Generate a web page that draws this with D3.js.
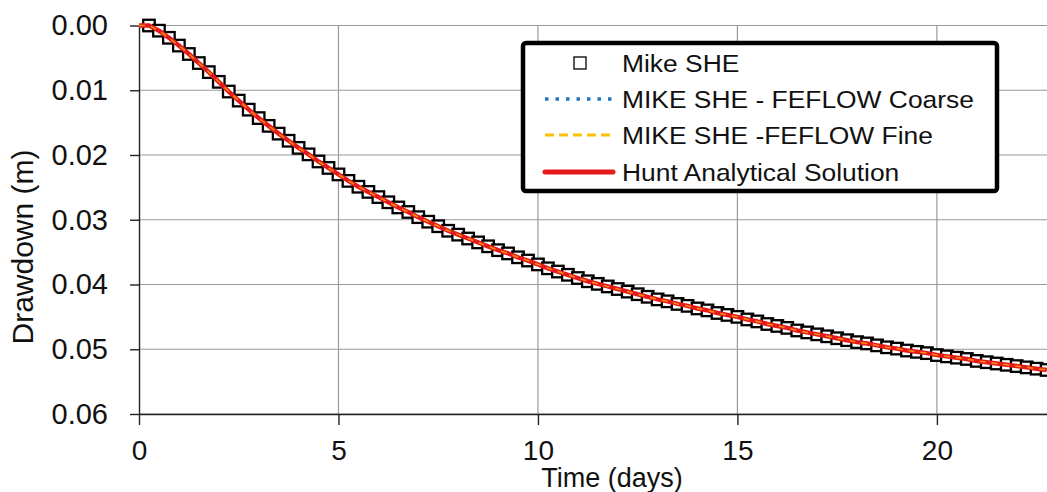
<!DOCTYPE html>
<html>
<head>
<meta charset="utf-8">
<script src="https://cdn.jsdelivr.net/npm/d3@7"></script>
<style>
  body { margin: 0; background: #fff; }
  svg { display: block; font-family: "Liberation Sans", Arial, sans-serif; }
</style>
</head>
<body>
<svg id="chart" width="1047" height="492"></svg>
<script>
// time (days) and drawdown (m), every 0.25 day
const times = [
  0, 0.25, 0.5, 0.75, 1, 1.25, 1.5, 1.75, 2, 2.25, 2.5, 2.75,
  3, 3.25, 3.5, 3.75, 4, 4.25, 4.5, 4.75, 5, 5.25, 5.5, 5.75,
  6, 6.25, 6.5, 6.75, 7, 7.25, 7.5, 7.75, 8, 8.25, 8.5, 8.75,
  9, 9.25, 9.5, 9.75, 10, 10.25, 10.5, 10.75, 11, 11.25, 11.5, 11.75,
  12, 12.25, 12.5, 12.75, 13, 13.25, 13.5, 13.75, 14, 14.25, 14.5, 14.75,
  15, 15.25, 15.5, 15.75, 16, 16.25, 16.5, 16.75, 17, 17.25, 17.5, 17.75,
  18, 18.25, 18.5, 18.75, 19, 19.25, 19.5, 19.75, 20, 20.25, 20.5, 20.75,
  21, 21.25, 21.5, 21.75, 22, 22.25, 22.5, 22.75
];

const huntDrawdown = [
  0, 0.0000, 0.0008, 0.0019, 0.0031, 0.0044, 0.0058, 0.0072, 0.0087, 0.0102, 0.0116, 0.0130,
  0.0143, 0.0155, 0.0167, 0.0178, 0.0189, 0.0199, 0.0210, 0.0220, 0.0230, 0.0240, 0.0249, 0.0257,
  0.0265, 0.0273, 0.0281, 0.0288, 0.0296, 0.0303, 0.0310, 0.0317, 0.0323, 0.0329, 0.0335, 0.0341,
  0.0347, 0.0352, 0.0358, 0.0363, 0.0369, 0.0375, 0.0380, 0.0385, 0.0390, 0.0395, 0.0399, 0.0403,
  0.0407, 0.0411, 0.0415, 0.0419, 0.0423, 0.0426, 0.0430, 0.0433, 0.0437, 0.0440, 0.0444, 0.0447,
  0.0450, 0.0454, 0.0457, 0.0461, 0.0464, 0.0467, 0.0471, 0.0474, 0.0477, 0.0480, 0.0483, 0.0486,
  0.0489, 0.0491, 0.0494, 0.0497, 0.0499, 0.0502, 0.0504, 0.0506, 0.0509, 0.0511, 0.0513, 0.0515,
  0.0518, 0.0520, 0.0522, 0.0524, 0.0526, 0.0528, 0.0530, 0.0532
];

// the model results sit right on top of the analytical curve
const mikeSheDrawdown = huntDrawdown;
const feflowCoarseDrawdown = huntDrawdown;
const feflowFineDrawdown = huntDrawdown;

const xTicks = [0, 5, 10, 15, 20];
const yTicks = [0, 0.01, 0.02, 0.03, 0.04, 0.05, 0.06];

const seriesNames = [
  "Mike SHE",
  "MIKE SHE - FEFLOW Coarse",
  "MIKE SHE -FEFLOW Fine",
  "Hunt Analytical Solution"
];

const svg = d3.select("#chart");

// plot area
const plotLeft = 139, plotRight = 1047, plotTop = 25.5, plotBottom = 414;

const x = d3.scaleLinear().domain([0, 22.76]).range([plotLeft, plotRight]);
const y = d3.scaleLinear().domain([0, 0.06]).range([plotTop, plotBottom]);

// gridlines
svg.append("g")
  .selectAll("line")
  .data(yTicks)
  .enter()
  .append("line")
  .attr("x1", plotLeft)
  .attr("x2", plotRight)
  .attr("y1", (d) => y(d))
  .attr("y2", (d) => y(d))
  .attr("stroke", "#9a9a9a")
  .attr("stroke-width", 1.2);

svg.append("g")
  .selectAll("line")
  .data(xTicks.slice(1))
  .enter()
  .append("line")
  .attr("x1", (d) => x(d))
  .attr("x2", (d) => x(d))
  .attr("y1", plotTop)
  .attr("y2", plotBottom)
  .attr("stroke", "#9a9a9a")
  .attr("stroke-width", 1.2);

// axes
const yAxis = svg.append("g")
  .attr("transform", `translate(${plotLeft},0)`)
  .call(d3.axisLeft(y).tickValues(yTicks).tickFormat(d3.format(".2f"))
    .tickSize(9).tickPadding(22).tickSizeOuter(0));
yAxis.selectAll("text")
  .style("font-size", "29px")
  .style("fill", "#111")
  .style("font-family", "Liberation Sans, Arial, sans-serif");

const xAxis = svg.append("g")
  .attr("transform", `translate(0,${plotBottom})`)
  .call(d3.axisBottom(x).tickValues(xTicks).tickFormat(d3.format("d"))
    .tickSize(11).tickPadding(15).tickSizeOuter(0));
xAxis.selectAll("text")
  .style("font-size", "28px")
  .style("fill", "#111")
  .style("font-family", "Liberation Sans, Arial, sans-serif");

svg.selectAll(".domain").attr("stroke", "#222").attr("stroke-width", 1.4);
svg.selectAll(".tick line").attr("stroke", "#222").attr("stroke-width", 1.4);

// axis titles (the time label sits right at the bottom edge)
svg.append("text")
  .attr("x", 612)
  .attr("y", 487)
  .attr("text-anchor", "middle")
  .style("font-size", "27px")
  .style("fill", "#111")
  .text("Time (days)");

svg.append("text")
  .attr("transform", "translate(33,247) rotate(-90)")
  .attr("text-anchor", "middle")
  .style("font-size", "30px")
  .style("fill", "#111")
  .text("Drawdown (m)");

// data
const plot = svg.append("g");

const points = (vals) => times.map((t, i) => ({ t: t, d: vals[i] }));
const line = d3.line().x((p) => x(p.t)).y((p) => y(p.d));

// Mike SHE squares (no marker at t = 0)
const markerSize = 11.5;
plot.selectAll("rect.mk")
  .data(points(mikeSheDrawdown).filter((p) => p.t > 0))
  .enter()
  .append("rect")
  .attr("class", "mk")
  .attr("x", (p) => x(p.t) - markerSize / 2)
  .attr("y", (p) => y(p.d) - markerSize / 2)
  .attr("width", markerSize)
  .attr("height", markerSize)
  .attr("fill", "#fff")
  .attr("stroke", "#000")
  .attr("stroke-width", 2.3);

plot.append("path")
  .datum(points(feflowCoarseDrawdown))
  .attr("d", line)
  .attr("fill", "none")
  .attr("stroke", "#1f77c4")
  .attr("stroke-width", 3)
  .attr("stroke-dasharray", "2,3");

plot.append("path")
  .datum(points(huntDrawdown))
  .attr("d", line)
  .attr("fill", "none")
  .attr("stroke", "#e41a1c")
  .attr("stroke-width", 4.5);

plot.append("path")
  .datum(points(feflowFineDrawdown))
  .attr("d", line)
  .attr("fill", "none")
  .attr("stroke", "#ffc000")
  .attr("stroke-width", 1.5)
  .attr("stroke-dasharray", "6,6")
  .style("opacity", 0.7);

// legend
const legend = svg.append("g");

legend.append("rect")
  .attr("x", 523)
  .attr("y", 43)
  .attr("width", 474)
  .attr("height", 148)
  .attr("rx", 3)
  .attr("fill", "#fff")
  .attr("stroke", "#000")
  .attr("stroke-width", 4.5);

const rowY = [63, 99, 135, 172];
const sampleX1 = 545, sampleX2 = 613;

// legend text in the picture is a bit wider than Liberation Sans
const rows = legend.selectAll("g.row")
  .data(seriesNames)
  .enter()
  .append("g")
  .attr("class", "row")
  .attr("transform", (d, i) => `translate(622,${rowY[i]}) scale(1.1,1)`);

rows.append("text")
  .attr("x", 0)
  .attr("y", 8.5)
  .style("font-size", "24px")
  .style("fill", "#111")
  .text((d) => d);

// legend samples
legend.append("rect")
  .attr("x", 580 - 6)
  .attr("y", rowY[0] - 6)
  .attr("width", 12)
  .attr("height", 12)
  .attr("fill", "#fff")
  .attr("stroke", "#000")
  .attr("stroke-width", 1.3);

legend.append("line")
  .attr("x1", sampleX1).attr("x2", sampleX2)
  .attr("y1", rowY[1]).attr("y2", rowY[1])
  .attr("stroke", "#1f77c4")
  .attr("stroke-width", 3.5)
  .attr("stroke-dasharray", "3.5,7");

legend.append("line")
  .attr("x1", sampleX1).attr("x2", sampleX2)
  .attr("y1", rowY[2]).attr("y2", rowY[2])
  .attr("stroke", "#ffc000")
  .attr("stroke-width", 3)
  .attr("stroke-dasharray", "9,5");

legend.append("line")
  .attr("x1", sampleX1).attr("x2", sampleX2)
  .attr("y1", rowY[3]).attr("y2", rowY[3])
  .attr("stroke", "#e41a1c")
  .attr("stroke-width", 5)
  .attr("stroke-linecap", "round");
</script>
</body>
</html>
